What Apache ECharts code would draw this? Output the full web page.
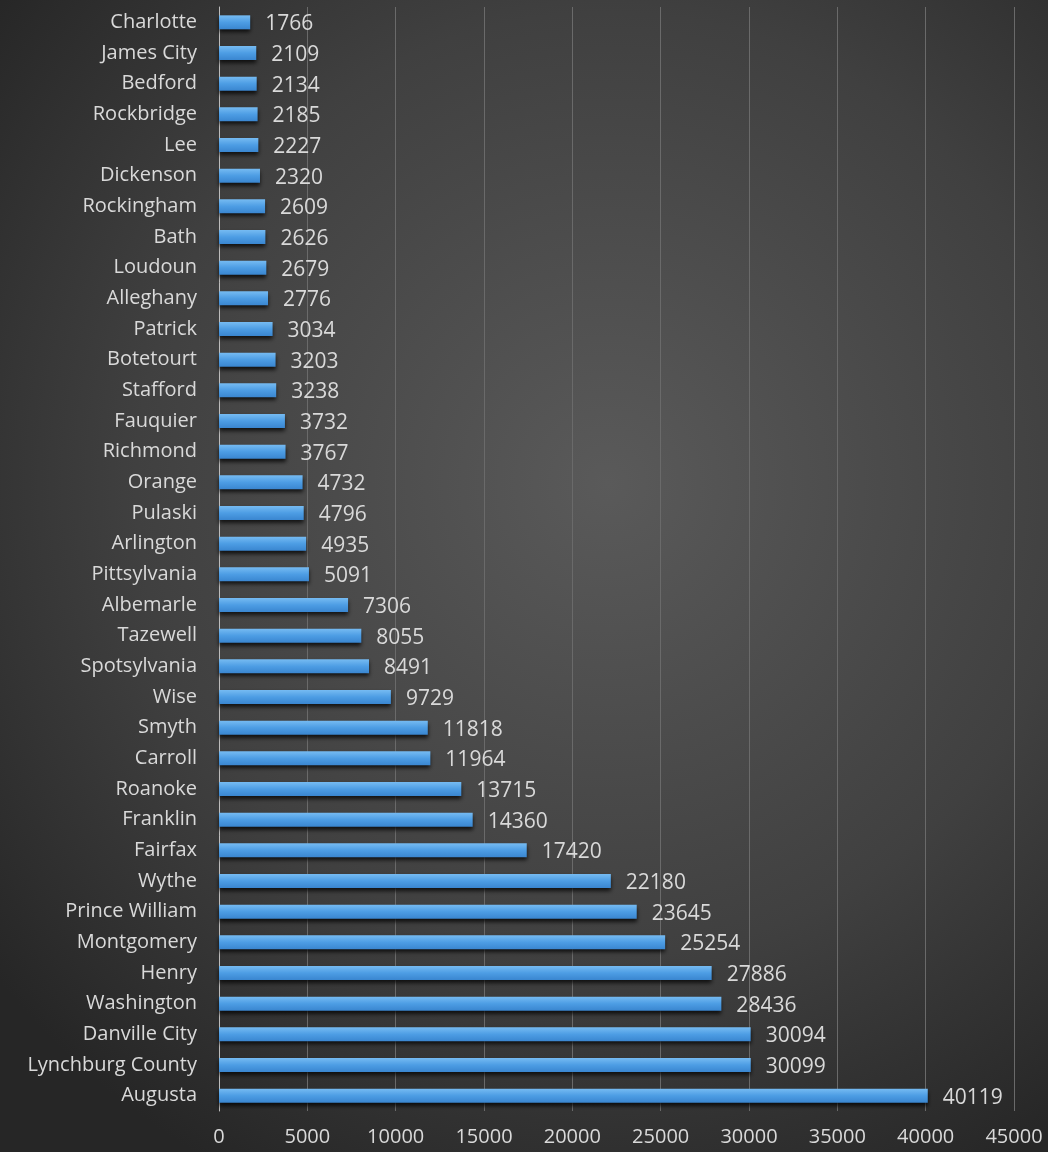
<!DOCTYPE html>
<html>
<head>
<meta charset="utf-8">
<script src="https://cdn.jsdelivr.net/npm/echarts@6/dist/echarts.min.js"></script>
<style>
  html, body { margin: 0; padding: 0; }
  #chart { width: 1048px; height: 1152px; }
</style>
</head>
<body>
<div id="chart"></div>
<script>
// counties, top to bottom as in the picture
var counties = ['Charlotte', 'James City', 'Bedford', 'Rockbridge', 'Lee', 'Dickenson',
    'Rockingham', 'Bath', 'Loudoun', 'Alleghany', 'Patrick', 'Botetourt', 'Stafford',
    'Fauquier', 'Richmond', 'Orange', 'Pulaski', 'Arlington', 'Pittsylvania', 'Albemarle',
    'Tazewell', 'Spotsylvania', 'Wise', 'Smyth', 'Carroll', 'Roanoke', 'Franklin', 'Fairfax',
    'Wythe', 'Prince William', 'Montgomery', 'Henry', 'Washington', 'Danville City',
    'Lynchburg County', 'Augusta'];
var values = [1766, 2109, 2134, 2185, 2227, 2320, 2609, 2626, 2679, 2776, 3034, 3203, 3238,
    3732, 3767, 4732, 4796, 4935, 5091, 7306, 8055, 8491, 9729, 11818, 11964, 13715, 14360,
    17420, 22180, 23645, 25254, 27886, 28436, 30094, 30099, 40119];

var myChart = echarts.init(document.getElementById('chart'));
var font = 'Open Sans';
var textColor = '#d9d9d9';
var option = {
    backgroundColor: {
        type: 'radial', x: 0.58, y: 0.42, r: 0.75,
        colorStops: [
            {offset: 0, color: '#5a5a5a'},
            {offset: 0.6, color: '#404040'},
            {offset: 1, color: '#262626'}
        ]
    },
    animation: false,
    grid: {left: 219, right: 34, top: 7, bottom: 41},
    xAxis: {
        type: 'value',
        min: 0,
        max: 45000,
        interval: 5000,
        axisLine: {show: false},
        axisTick: {show: false},
        axisLabel: {
            color: textColor, fontSize: 20, fontFamily: font, margin: 16,
            formatter: function (v) { return String(v); }
        },
        splitLine: {lineStyle: {color: '#6a6a6a', width: 1}}
    },
    yAxis: {
        type: 'category',
        inverse: true,
        data: counties,
        axisLine: {show: true, lineStyle: {color: '#bdbdbd', width: 1}},
        axisTick: {show: false},
        axisLabel: {color: textColor, fontSize: 20, fontFamily: font, margin: 22}
    },
    series: [{
        type: 'bar',
        data: values,
        barWidth: 14,
        itemStyle: {
            color: {
                type: 'linear', x: 0, y: 0, x2: 0, y2: 1,
                colorStops: [
                    {offset: 0, color: '#76bbf2'},
                    {offset: 0.5, color: '#4d9de4'},
                    {offset: 1, color: '#3a86d0'}
                ]
            },
            shadowColor: 'rgba(0,0,0,0.75)',
            shadowBlur: 4,
            shadowOffsetY: 3
        },
        label: {
            show: true,
            position: 'right',
            distance: 15,
            offset: [0, 2],
            color: textColor,
            fontSize: 21,
            fontFamily: font
        }
    }]
};
myChart.setOption(option);
</script>
</body>
</html>
